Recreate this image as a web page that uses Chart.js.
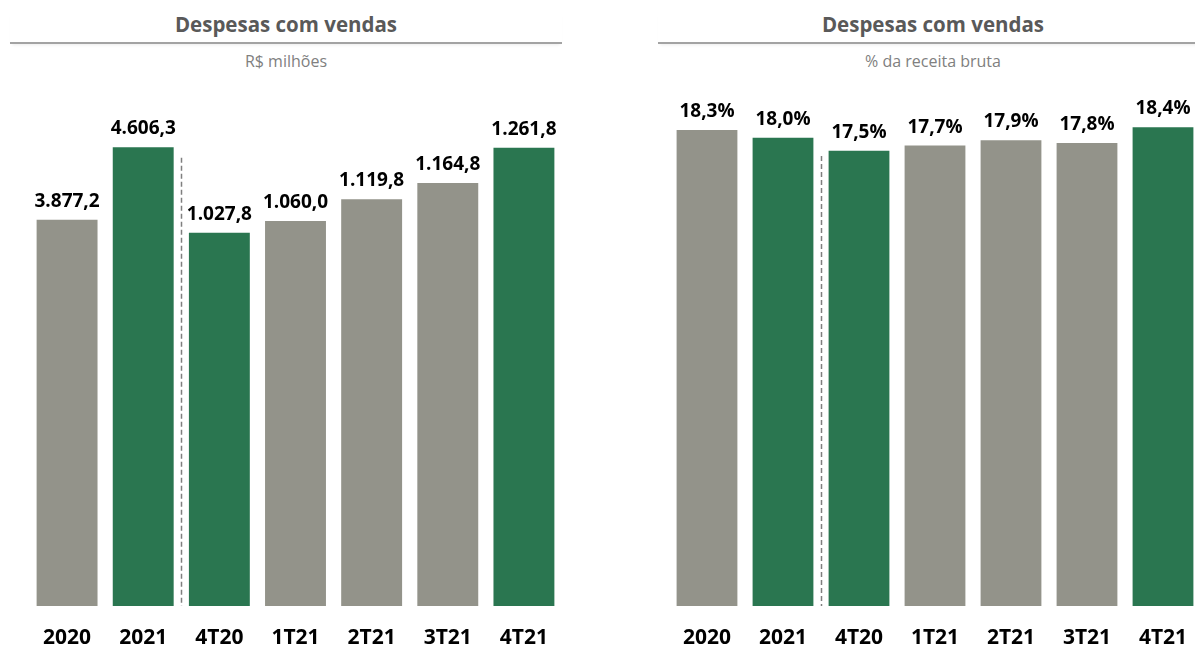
<!DOCTYPE html>
<html>
<head>
<meta charset="utf-8">
<script src="https://cdn.jsdelivr.net/npm/chart.js@4/dist/chart.umd.min.js"></script>
<style>
    html, body { margin: 0; padding: 0; background: #fff; width: 1195px; height: 646px; overflow: hidden; }
    body { position: relative; font-family: "Open Sans", sans-serif; }
    .title { position: absolute; top: 10px; height: 32px; text-align: center; font-weight: bold; font-size: 20.5px; color: #595959; border-bottom: 2px solid #a3a3a3; box-shadow: 0 3px 3px -2px rgba(0,0,0,0.08); }
    .subtitle { position: absolute; top: 50px; text-align: center; font-size: 16px; color: #808080; }
    .chartBox { position: absolute; top: 80px; height: 582px; }
</style>
</head>
<body>
    <div class="title" style="left:10px; width:552px;">Despesas com vendas</div>
    <div class="subtitle" style="left:10px; width:552px;">R$ milhões</div>
    <div class="chartBox" style="left:28.5px; width:533px;"><canvas id="valueChart"></canvas></div>

    <div class="title" style="left:658px; width:550px;">Despesas com vendas</div>
    <div class="subtitle" style="left:658px; width:550px;">% da receita bruta</div>
    <div class="chartBox" style="left:668.5px; width:532px;"><canvas id="pctChart"></canvas></div>

<script>
// Categories
const periods = ['2020', '2021', '4T20', '1T21', '2T21', '3T21', '4T21'];

// R$ milhões (annual on one scale, quarters on another)
const annualValues = [3877.2, 4606.3, null, null, null, null, null];
const quarterValues = [null, null, 1027.8, 1060.0, 1119.8, 1164.8, 1261.8];

// % da receita bruta
const pctValues = [18.3, 18.0, 17.5, 17.7, 17.9, 17.8, 18.4];

// highlighted bars (green) vs regular (gray)
const highlight = [false, true, true, false, false, false, true];

const GREEN = '#2a7650';
const GRAY = '#93938a';
const barColors = highlight.map(h => h ? GREEN : GRAY);

function formatBR(v, suffix) {
    const parts = v.toFixed(1).split('.');
    parts[0] = parts[0].replace(/\B(?=(\d{3})+(?!\d))/g, '.');
    return parts.join(',') + (suffix || '');
}

// value labels above bars
const barLabels = {
    id: 'barLabels',
    afterDatasetsDraw(chart, args, opts) {
        const ctx = chart.ctx;
        ctx.save();
        ctx.font = 'bold 19px "Open Sans"';
        ctx.fillStyle = '#000';
        ctx.textAlign = 'center';
        ctx.textBaseline = 'alphabetic';
        chart.data.datasets.forEach((ds, i) => {
            const meta = chart.getDatasetMeta(i);
            meta.data.forEach((bar, j) => {
                if (ds.data[j] === null) return;
                ctx.fillText(formatBR(ds.data[j], opts.suffix), bar.x, bar.y - 13);
            });
        });
        ctx.restore();
    }
};

// dashed separator between annual and quarterly bars
const divider = {
    id: 'divider',
    afterDatasetsDraw(chart, args, opts) {
        const x = chart.scales.x;
        const y = chart.scales[opts.axis];
        const px = (x.getPixelForValue(1) + x.getPixelForValue(2)) / 2;
        const ctx = chart.ctx;
        ctx.save();
        ctx.strokeStyle = '#7f7f7f';
        ctx.lineWidth = 1.5;
        ctx.setLineDash([5, 3]);
        ctx.beginPath();
        ctx.moveTo(Math.round(px) + 0.5, y.getPixelForValue(opts.top));
        ctx.lineTo(Math.round(px) + 0.5, chart.chartArea.bottom);
        ctx.stroke();
        ctx.restore();
    }
};

const xAxis = {
    grid: { display: false },
    border: { display: false },
    ticks: { color: '#000', padding: 11.4, font: { family: 'Open Sans', size: 21, weight: 'bold' } }
};

new Chart(document.getElementById('valueChart'), {
    type: 'bar',
    data: {
        labels: periods,
        datasets: [
            { data: annualValues, yAxisID: 'y', backgroundColor: barColors, grouped: false, barPercentage: 0.8, categoryPercentage: 1 },
            { data: quarterValues, yAxisID: 'y2', backgroundColor: barColors, grouped: false, barPercentage: 0.8, categoryPercentage: 1 }
        ]
    },
    options: {
        responsive: true,
        maintainAspectRatio: false,
        animation: false,
        layout: { padding: 0 },
        scales: {
            x: xAxis,
            y: { display: false, min: 0, max: 5281 },
            y2: { display: false, min: 0, max: 1448 }
        },
        plugins: {
            legend: { display: false },
            tooltip: { enabled: false },
            barLabels: { suffix: '' },
            divider: { axis: 'y', top: 4500 }
        }
    },
    plugins: [barLabels, divider]
});

new Chart(document.getElementById('pctChart'), {
    type: 'bar',
    data: {
        labels: periods,
        datasets: [
            { data: pctValues, backgroundColor: barColors, barPercentage: 0.8, categoryPercentage: 1 }
        ]
    },
    options: {
        responsive: true,
        maintainAspectRatio: false,
        animation: false,
        layout: { padding: 0 },
        scales: {
            x: xAxis,
            y: { display: false, min: 0, max: 20.22 }
        },
        plugins: {
            legend: { display: false },
            tooltip: { enabled: false },
            barLabels: { suffix: '%' },
            divider: { axis: 'y', top: 17.3 }
        }
    },
    plugins: [barLabels, divider]
});
</script>
</body>
</html>
